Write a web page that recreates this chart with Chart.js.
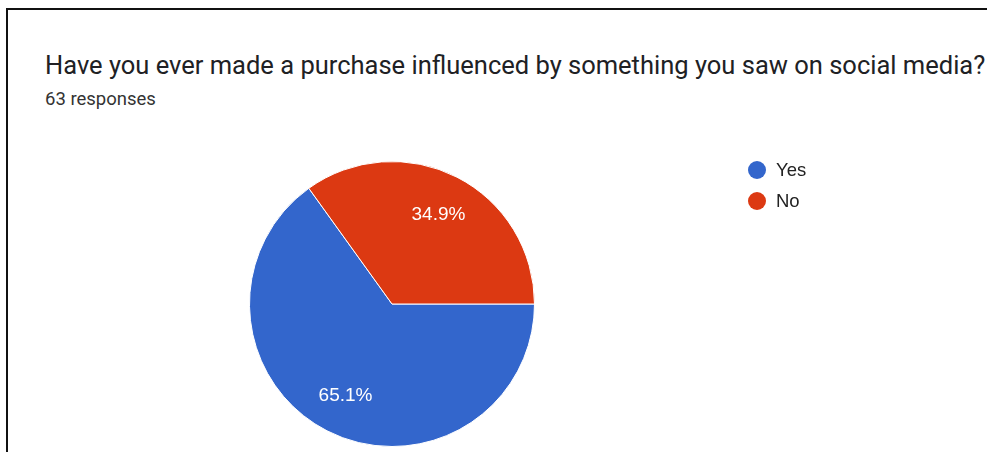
<!DOCTYPE html>
<html lang="en">

<head>
    <meta charset="UTF-8">
    <meta name="viewport" content="width=device-width, initial-scale=1.0">
    <title>Social media purchases</title>
    <script src="https://cdn.jsdelivr.net/npm/chart.js"></script>
    <style>
        html, body { margin: 0; padding: 0; background: #fff; overflow: hidden; }
        #quadro {
            position: absolute; left: 6px; top: 8px; right: 0; bottom: 0;
            border-left: 2px solid #111; border-top: 2px solid #111;
        }
        #titulo {
            position: absolute; left: 45px; top: 50px; margin: 0;
            font-family: Roboto, sans-serif; font-weight: 400; font-size: 25.5px;
            color: #202124; white-space: nowrap;
        }
        #respostas {
            position: absolute; left: 45px; top: 88px; margin: 0;
            font-family: Roboto, sans-serif; font-size: 18.5px; color: #333;
        }
        #grafico { position: absolute; left: 0; top: 0; }
    </style>
</head>

<body>
    <div id="quadro"></div>
    <p id="titulo">Have you ever made a purchase influenced by something you saw on social media?</p>
    <p id="respostas">63 responses</p>
    <canvas id="grafico" width="987" height="452"></canvas>
</body>

</html>
<script>
    const categorias = ['Yes', 'No']
    const respostas = [41, 22]
    const cores = ['#3366CC', '#DC3912']

    // percentage inside each slice, like Google Forms does
    const rotulos = {
        id: 'rotulos',
        afterDatasetsDraw(chart) {
            const ctx = chart.ctx
            const meta = chart.getDatasetMeta(0)
            const total = respostas.reduce((a, b) => a + b, 0)
            ctx.save()
            ctx.font = '19px "Liberation Sans", Arial, sans-serif'
            ctx.fillStyle = '#fff'
            ctx.textAlign = 'center'
            ctx.textBaseline = 'middle'
            meta.data.forEach((arco, i) => {
                const meio = (arco.startAngle + arco.endAngle) / 2
                const r = arco.outerRadius * 0.715
                const pct = (respostas[i] / total * 100).toFixed(1) + '%'
                ctx.fillText(pct, arco.x + Math.cos(meio) * r, arco.y + Math.sin(meio) * r + 1)
            })
            ctx.restore()
        }
    }

    // legend on the right: dot + label
    const legenda = {
        id: 'legenda',
        afterDraw(chart) {
            const ctx = chart.ctx
            ctx.save()
            ctx.font = '18.5px "Liberation Sans", Arial, sans-serif'
            ctx.textBaseline = 'middle'
            categorias.forEach((nome, i) => {
                const y = 170 + i * 31
                ctx.beginPath()
                ctx.arc(757, y, 9, 0, Math.PI * 2)
                ctx.fillStyle = cores[i]
                ctx.fill()
                ctx.fillStyle = '#222'
                ctx.fillText(nome, 776, y + 1)
            })
            ctx.restore()
        }
    }

    new Chart(
        grafico,
        {
            type: 'pie',
            data: {
                labels: categorias,
                datasets: [{
                    data: respostas,
                    backgroundColor: cores,
                    borderColor: '#fff',
                    borderWidth: 1
                }]
            },
            options: {
                responsive: false,
                animation: false,
                rotation: 90,
                layout: { padding: { left: 249, right: 452, top: 161, bottom: 5 } },
                plugins: {
                    legend: { display: false },
                    tooltip: { enabled: false }
                }
            },
            plugins: [rotulos, legenda]
        }
    )
</script>
